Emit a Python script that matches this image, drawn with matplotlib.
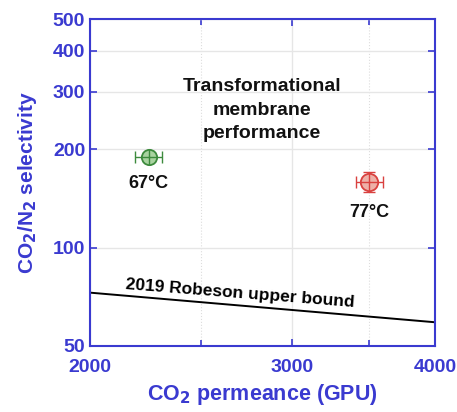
import matplotlib
matplotlib.use("Agg")
import matplotlib.pyplot as plt
from matplotlib.ticker import FixedLocator, NullFormatter, NullLocator

plt.rcParams['font.family'] = ['Liberation Sans', 'DejaVu Sans']

# data
perm = [2250, 3505]
perm_err = [60, 95]
sel = [189, 159]
sel_err = [5, 11]
temps = ["67°C", "77°C"]
temp_label_y = [156.5, 128]
edge_colors = ["#3d8a3d", "#d9413f"]
face_colors = ["#a9d3a0", "#eeb0a8"]
robeson_x = [2000, 4000]
robeson_y = [72.8, 59.1]
xticks = [2000, 3000, 4000]
xminor = [2500, 3500]
yticks = [50, 100, 200, 300, 400, 500]

blue = "#3a3ad0"

fig = plt.figure(figsize=(4.57, 4.12), dpi=100)
ax = fig.add_axes([90/457, 1-346/412, 345/457, 327/412])
ax.set_xscale('log')
ax.set_yscale('log')
ax.set_xlim(2000, 4000)
ax.set_ylim(50, 500)

ax.xaxis.set_major_locator(FixedLocator(xticks))
ax.xaxis.set_minor_locator(FixedLocator(xminor))
ax.xaxis.set_minor_formatter(NullFormatter())
ax.set_xticklabels([str(t) for t in xticks])
ax.yaxis.set_major_locator(FixedLocator(yticks))
ax.yaxis.set_minor_locator(NullLocator())
ax.set_yticklabels([str(t) for t in yticks])

ax.grid(True, which='major', color='#e6e6e6', linewidth=1.0, linestyle='-')
ax.grid(True, which='minor', axis='x', color='#dddddd', linewidth=0.8, linestyle=':')
ax.set_axisbelow(True)

for s in ax.spines.values():
    s.set_color(blue)
    s.set_linewidth(1.5)
ax.tick_params(which='both', direction='in', top=True, right=True, color=blue,
               width=1.2, labelcolor=blue, labelsize=14)
ax.tick_params(which='major', length=5)
ax.tick_params(which='minor', length=4)
ax.tick_params(axis='x', pad=9)
for lab in ax.get_xticklabels() + ax.get_yticklabels():
    lab.set_fontweight('bold')

ax.plot(robeson_x, robeson_y, color='black', linewidth=1.4)
ax.text(2703, 72.1, "2019 Robeson upper bound", rotation=-4.5, ha='center', va='center',
        fontsize=12.5, fontweight='bold', color='black', rotation_mode='anchor')

for i in range(len(perm)):
    ax.errorbar(perm[i], sel[i], xerr=perm_err[i], yerr=sel_err[i], fmt='none',
                ecolor=edge_colors[i], elinewidth=1.0, capsize=4, capthick=1.0, zorder=3)
    ax.plot(perm[i], sel[i], 'o', markersize=11 if i == 0 else 12.5,
            markerfacecolor=face_colors[i], markeredgecolor=edge_colors[i],
            markeredgewidth=1.3, zorder=4)
    ax.plot(perm[i], sel[i], '+', markersize=11 if i == 0 else 12.5, color=edge_colors[i],
            markeredgewidth=1.0, zorder=5)
    ax.text(perm[i], temp_label_y[i], temps[i], ha='center', va='center', fontsize=13,
            fontweight='bold', color='#111111')

ax.text(2826, 263, "Transformational\nmembrane\nperformance", ha='center', va='center',
        fontsize=14, fontweight='bold', color='#111111', linespacing=1.5)

ax.set_xlabel("CO$_\\mathbf{2}$ permeance (GPU)", fontsize=15.5, fontweight='bold', color=blue, labelpad=5)
ax.set_ylabel("CO$_\\mathbf{2}$/N$_\\mathbf{2}$ selectivity", fontsize=15, fontweight='bold', color=blue, labelpad=10)

fig.savefig("out.png", dpi=100)
